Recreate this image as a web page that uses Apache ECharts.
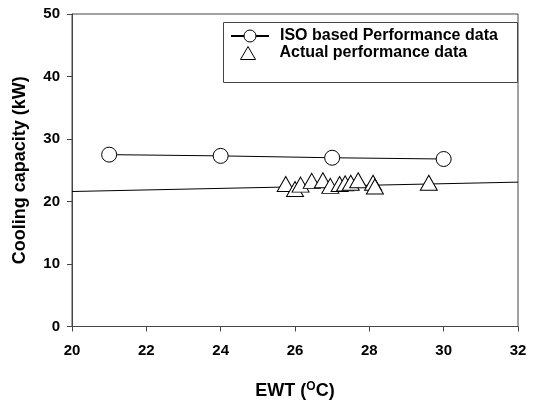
<!DOCTYPE html>
<html>
<head>
<meta charset="utf-8">
<script src="https://cdn.jsdelivr.net/npm/echarts@6/dist/echarts.min.js"></script>
<style>html,body{margin:0;padding:0;background:#fff}#c{width:535px;height:405px}</style>
</head>
<body>
<div id="c"></div>
<script>
// Data
var isoEWT = [21, 24, 27, 30];
var isoCapacity = [27.5, 27.3, 27.0, 26.8];
var actualEWT = [25.75, 26.0, 26.15, 26.45, 26.75, 26.95, 27.2, 27.35, 27.5, 27.7, 28.1, 28.15, 29.6];
var actualCapacity = [22.8, 22.0, 22.7, 23.3, 23.4, 22.5, 22.8, 22.9, 23.0, 23.4, 23.0, 22.4, 23.0];
var fitEWT = [20, 32];
var fitCapacity = [21.6, 23.1];
var seriesNames = ['ISO based Performance data', 'Actual performance data'];
var xTitle = 'EWT';
var yTitle = 'Cooling capacity (kW)';

function zip(a, b) { return a.map(function (v, i) { return [v, b[i]]; }); }

var chart = echarts.init(document.getElementById('c'), null, {renderer: 'canvas'});
var font = 'Arial, "Liberation Sans", sans-serif';
var legendText = {fontFamily: font, fontWeight: 'bold', fontSize: 16, color: '#000'};
chart.setOption({
  animation: false,
  backgroundColor: '#fff',
  grid: {left: 72, right: 17, top: 14, bottom: 77, show: true, borderColor: '#444', borderWidth: 1, backgroundColor: 'transparent'},
  graphic: [{
    type: 'rect', left: 223, top: 22, z: 50,
    shape: {width: 294, height: 60},
    style: {fill: '#fff', stroke: '#444', lineWidth: 1}
  }],
  legend: [{
    data: [seriesNames[0]],
    left: 230, top: 28, padding: 0, z: 60,
    itemWidth: 38, itemHeight: 15,
    itemStyle: {borderWidth: 1},
    textStyle: Object.assign({padding: [0, 0, 0, 6]}, legendText)
  }, {
    data: [seriesNames[1]],
    left: 240, top: 45, padding: 0, z: 60,
    itemWidth: 15, itemHeight: 13,
    itemStyle: {borderWidth: 1},
    textStyle: Object.assign({padding: [0, 0, 0, 19]}, legendText)
  }],
  xAxis: {
    type: 'value', min: 20, max: 32, interval: 2,
    name: xTitle + ' ({sup|O}C)',
    nameLocation: 'middle', nameGap: 54,
    nameTextStyle: {fontFamily: font, fontWeight: 'bold', fontSize: 18, color: '#000',
      rich: {sup: {fontFamily: font, fontWeight: 'bold', fontSize: 12, color: '#000', verticalAlign: 'top', padding: [0, 0, 9, 0]}}},
    axisLine: {show: true, lineStyle: {color: '#444', width: 1}},
    axisTick: {show: true, inside: false, length: 5, lineStyle: {color: '#444'}},
    axisLabel: {fontFamily: font, fontWeight: 'bold', fontSize: 15, color: '#000', margin: 17},
    splitLine: {show: false}
  },
  yAxis: {
    type: 'value', min: 0, max: 50, interval: 10,
    name: yTitle,
    nameLocation: 'middle', nameGap: 43, nameRotate: 90,
    nameTextStyle: {fontFamily: font, fontWeight: 'bold', fontSize: 18, color: '#000'},
    axisLine: {show: true, lineStyle: {color: '#444', width: 1}},
    axisTick: {show: true, inside: false, length: 5, lineStyle: {color: '#444'}},
    axisLabel: {fontFamily: font, fontWeight: 'bold', fontSize: 15, color: '#000', margin: 12},
    splitLine: {show: false}
  },
  series: [
    {
      name: 'fit', type: 'line', data: zip(fitEWT, fitCapacity),
      symbol: 'none', lineStyle: {color: '#000', width: 1}, z: 1, silent: true
    },
    {
      name: seriesNames[1], type: 'scatter', data: zip(actualEWT, actualCapacity),
      symbol: 'triangle', symbolSize: [17, 15],
      itemStyle: {color: '#fff', borderColor: '#000', borderWidth: 1, opacity: 1}, z: 3
    },
    {
      name: seriesNames[0], type: 'line', data: zip(isoEWT, isoCapacity),
      symbol: 'circle', symbolSize: 15, showAllSymbol: true,
      lineStyle: {color: '#000', width: 1},
      itemStyle: {color: '#fff', borderColor: '#000', borderWidth: 1}, z: 4
    }
  ]
});
</script>
</body>
</html>
